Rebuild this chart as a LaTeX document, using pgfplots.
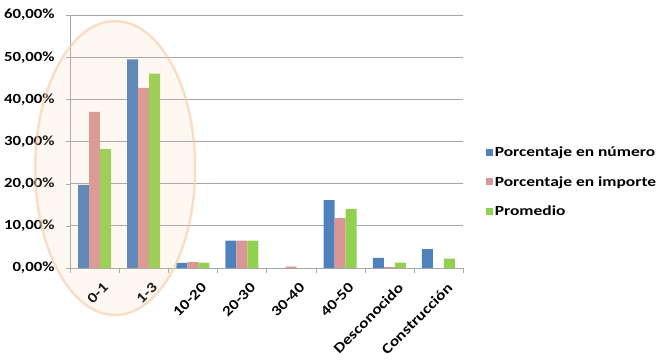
\documentclass[border=0pt]{standalone}
\usepackage{pgfplots}
\pgfplotsset{compat=1.18}
\usepackage{fontspec}
\setmainfont{Carlito}[FakeStretch=1.2]
\newfontfamily\wideB{Carlito}[FakeStretch=1.25]
\definecolor{cblue}{HTML}{4F81BD}
\definecolor{cpink}{HTML}{D99694}
\definecolor{cgreen}{HTML}{92D050}
\definecolor{cgrid}{HTML}{A6A6A6}
\definecolor{cpeach}{HTML}{F7C9A0}
\begin{document}
\begin{tikzpicture}
\path[use as bounding box] (0,0) rectangle (666bp,360bp);
\begin{axis}[
  at={(70bp,92bp)}, anchor=south west,
  scale only axis, width=393bp, height=253bp,
  ybar=0pt, bar width=11bp,
  xmin=-0.5, xmax=7.5, ymin=0, ymax=60,
  axis lines=left, axis line style={cgrid,-},
  axis x line*=bottom, axis y line*=left,
  xtick={0,...,7},
  xticklabels={0-1,1-3,10-20,20-30,30-40,40-50,Desconocido,Construcción},
  x tick label style={rotate=45, anchor=north east, font=\bfseries\fontsize{14.5}{16}\selectfont, xshift=2bp, yshift=-9bp},
  major x tick style={draw=none},
  minor xtick={-0.5,0.5,...,7.5},
  minor x tick style={cgrid},
  minor tick length=5bp,
  ytick={0,10,...,60},
  ymajorgrids, grid style={cgrid, line width=0.8pt},
  y tick style={cgrid}, major tick length=4bp,
  tick align=outside,
  yticklabel={\pgfmathprintnumber[fixed,fixed zerofill,precision=2,use comma]{\tick}\%},
  /pgf/number format/assume math mode=true,
  y tick label style={font=\bfseries\fontsize{14}{16}\selectfont, xshift=-8bp},
  clip=false,
  legend style={at={(1.05,0.34)}, anchor=west, draw=none, fill=none,
    font=\wideB\bfseries\fontsize{14}{16}\selectfont, row sep=14bp},
  legend cell align=left,
  legend image code/.code={\fill[#1] (0bp,-3.5bp) rectangle (7bp,3.5bp);},
]
\addplot[fill=cblue, draw=none] coordinates {(0,19.7) (1,49.5) (2,1.2) (3,6.5) (4,0) (5,16.1) (6,2.4) (7,4.5)};
\addlegendentry{Porcentaje en número}
\addplot[fill=cpink, draw=none] coordinates {(0,37.0) (1,42.7) (2,1.4) (3,6.5) (4,0.3) (5,11.8) (6,0.2) (7,0)};
\addlegendentry{Porcentaje en importe}
\addplot[fill=cgreen, draw=none] coordinates {(0,28.2) (1,46.1) (2,1.3) (3,6.5) (4,0) (5,14.0) (6,1.3) (7,2.2)};
\addlegendentry{Promedio}
\draw[cpeach, line width=2.5pt, fill=cpeach, fill opacity=0.12, draw opacity=0.6] (axis cs:0.42,23.7) ellipse [x radius=80bp, y radius=147bp];
\end{axis}
\end{tikzpicture}
\end{document}
